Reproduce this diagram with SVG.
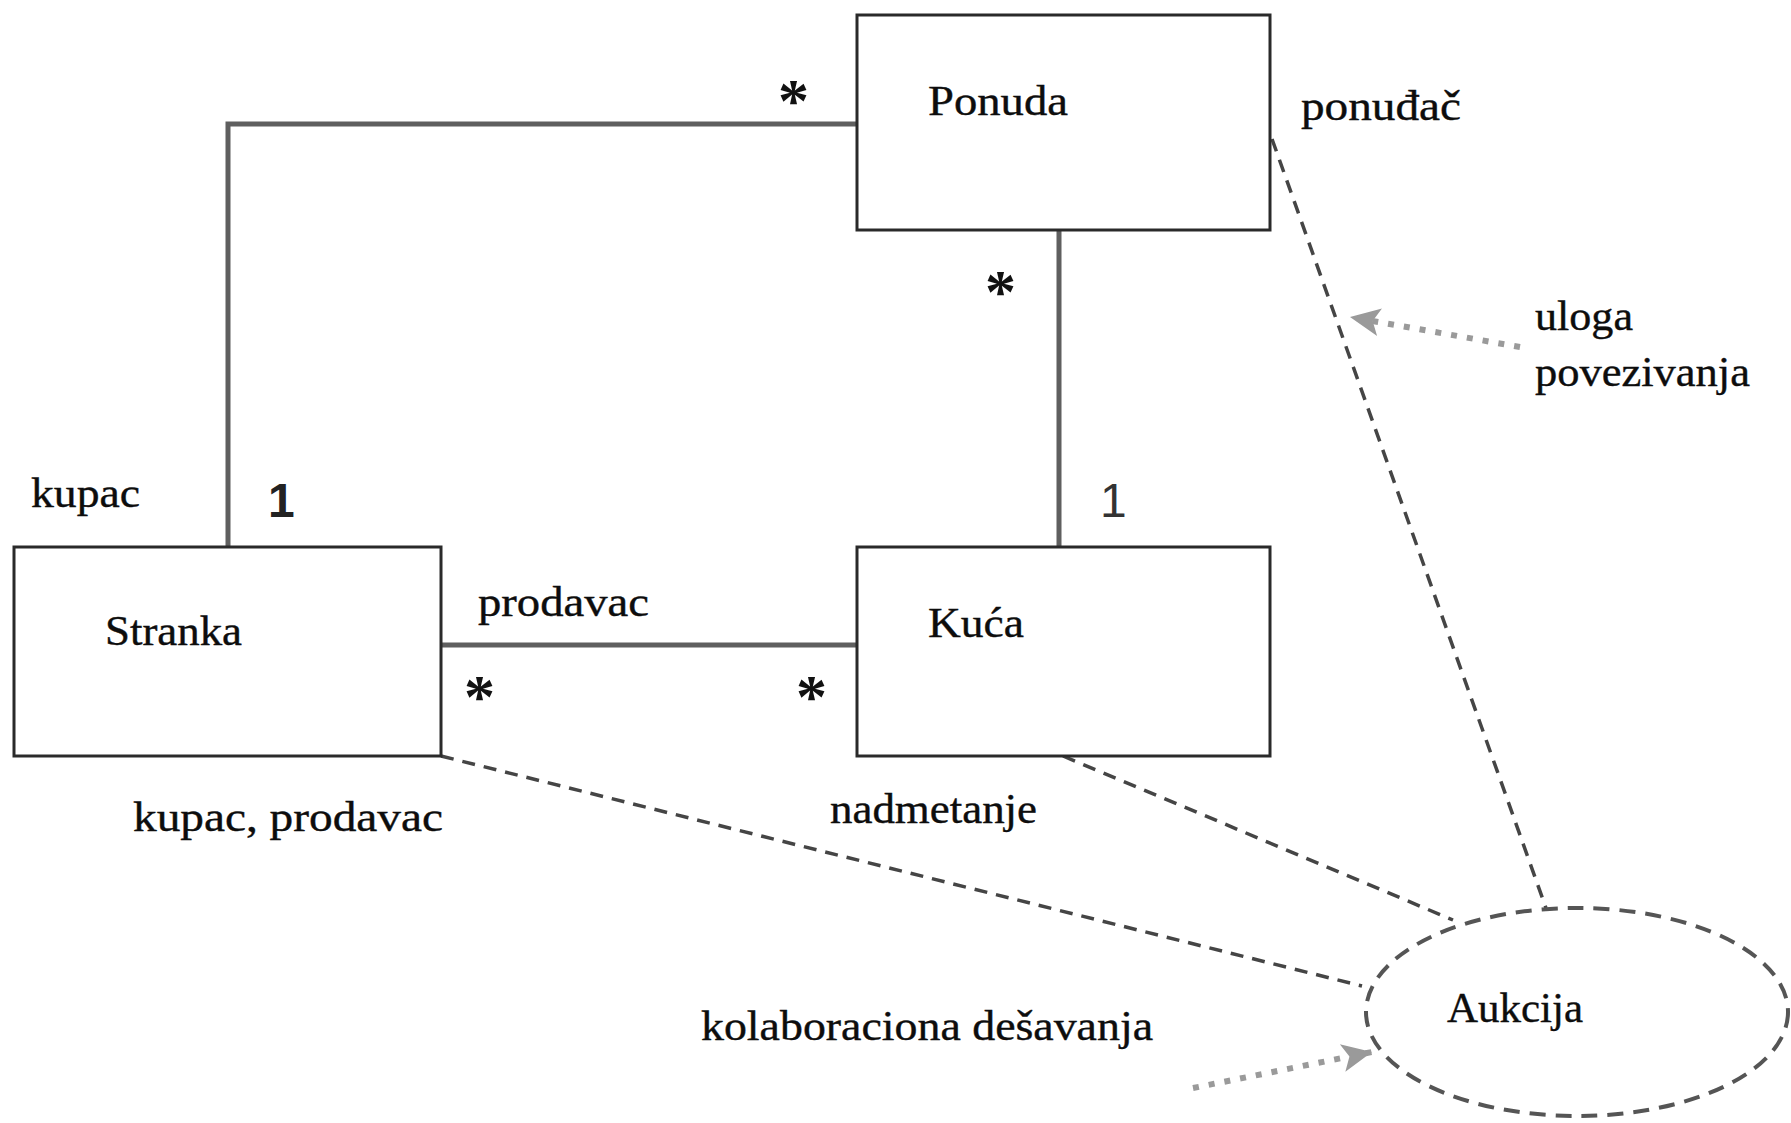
<svg xmlns="http://www.w3.org/2000/svg" width="1791" height="1123" viewBox="0 0 1791 1123">
  <style>
    .box { fill: #ffffff; stroke: #2a2a2a; stroke-width: 3; }
    .assoc { fill: none; stroke: #5f5f5f; stroke-width: 5; }
    .dash { fill: none; stroke: #454545; stroke-width: 3.5; stroke-dasharray: 13 9; }
    .ell { fill: none; stroke: #555555; stroke-width: 4; stroke-dasharray: 16 10; }
    .note { fill: none; stroke: #9a9a9a; stroke-width: 6; stroke-dasharray: 6 10; }
    .lbl { font-family: "Liberation Serif", "Times New Roman", serif; font-size: 43px; fill: #0d0d0d; stroke: #0d0d0d; stroke-width: 0.4; }
    .star { font-family: "Liberation Serif", "Times New Roman", serif; font-weight: bold; font-size: 62px; fill: #111111; }
    .num { font-family: "Liberation Sans", Arial, sans-serif; font-weight: bold; font-size: 48px; fill: #222222; }
    .num.thin { font-weight: normal; fill: #333333; }
  </style>
  <defs>
    <marker id="grayHead" markerUnits="userSpaceOnUse" markerWidth="34" markerHeight="32" refX="30" refY="16" orient="auto">
      <path d="M0,2 L30,16 L0,30 L7,16 Z" fill="#9a9a9a"/>
    </marker>
  </defs>

  <!-- associations, role lines and note arrows -->
  <g id="connectors">
    <polyline class="assoc" points="228,547 228,124 857,124"/>
    <line class="assoc" x1="1059" y1="230" x2="1059" y2="547"/>
    <line class="assoc" x1="441" y1="645" x2="857" y2="645"/>

    <line class="dash" x1="441" y1="756" x2="1362" y2="986"/>
    <line class="dash" x1="1063" y1="756" x2="1453" y2="920"/>
    <line class="dash" x1="1272" y1="139" x2="1546" y2="908"/>

    <line class="note" x1="1520" y1="347" x2="1350" y2="317" marker-end="url(#grayHead)"/>
    <line class="note" x1="1193" y1="1088" x2="1372" y2="1052" marker-end="url(#grayHead)"/>
  </g>

  <g id="ponuda">
    <rect class="box" x="857" y="15" width="413" height="215"/>
    <text class="lbl" x="928" y="115" textLength="140" lengthAdjust="spacingAndGlyphs">Ponuda</text>
  </g>

  <g id="stranka">
    <rect class="box" x="14" y="547" width="427" height="209"/>
    <text class="lbl" x="105" y="645" textLength="137" lengthAdjust="spacingAndGlyphs">Stranka</text>
  </g>

  <g id="kuca">
    <rect class="box" x="857" y="547" width="413" height="209"/>
    <text class="lbl" x="928" y="637" textLength="96" lengthAdjust="spacingAndGlyphs">Kuća</text>
  </g>

  <g id="aukcija">
    <ellipse class="ell" cx="1577" cy="1012" rx="211" ry="104"/>
    <text class="lbl" x="1447" y="1022" textLength="136" lengthAdjust="spacingAndGlyphs">Aukcija</text>
  </g>

  <!-- multiplicities -->
  <g id="multiplicities">
    <text class="star" x="778" y="121">*</text>
    <text class="star" x="985" y="312">*</text>
    <text class="star" x="464" y="717">*</text>
    <text class="star" x="796" y="717">*</text>
    <text class="num" x="268" y="517">1</text>
    <text class="num thin" x="1100" y="517">1</text>
  </g>

  <!-- role names and notes -->
  <g id="labels">
    <text class="lbl" x="31" y="507" textLength="109" lengthAdjust="spacingAndGlyphs">kupac</text>
    <text class="lbl" x="1301" y="120" textLength="160" lengthAdjust="spacingAndGlyphs">ponuđač</text>
    <text class="lbl" x="1535" y="330" textLength="98" lengthAdjust="spacingAndGlyphs">uloga</text>
    <text class="lbl" x="1535" y="386" textLength="215" lengthAdjust="spacingAndGlyphs">povezivanja</text>
    <text class="lbl" x="478" y="616" textLength="171" lengthAdjust="spacingAndGlyphs">prodavac</text>
    <text class="lbl" x="133" y="831" textLength="310" lengthAdjust="spacingAndGlyphs">kupac, prodavac</text>
    <text class="lbl" x="830" y="823" textLength="207" lengthAdjust="spacingAndGlyphs">nadmetanje</text>
    <text class="lbl" x="701" y="1040" textLength="452" lengthAdjust="spacingAndGlyphs">kolaboraciona dešavanja</text>
  </g>
</svg>
